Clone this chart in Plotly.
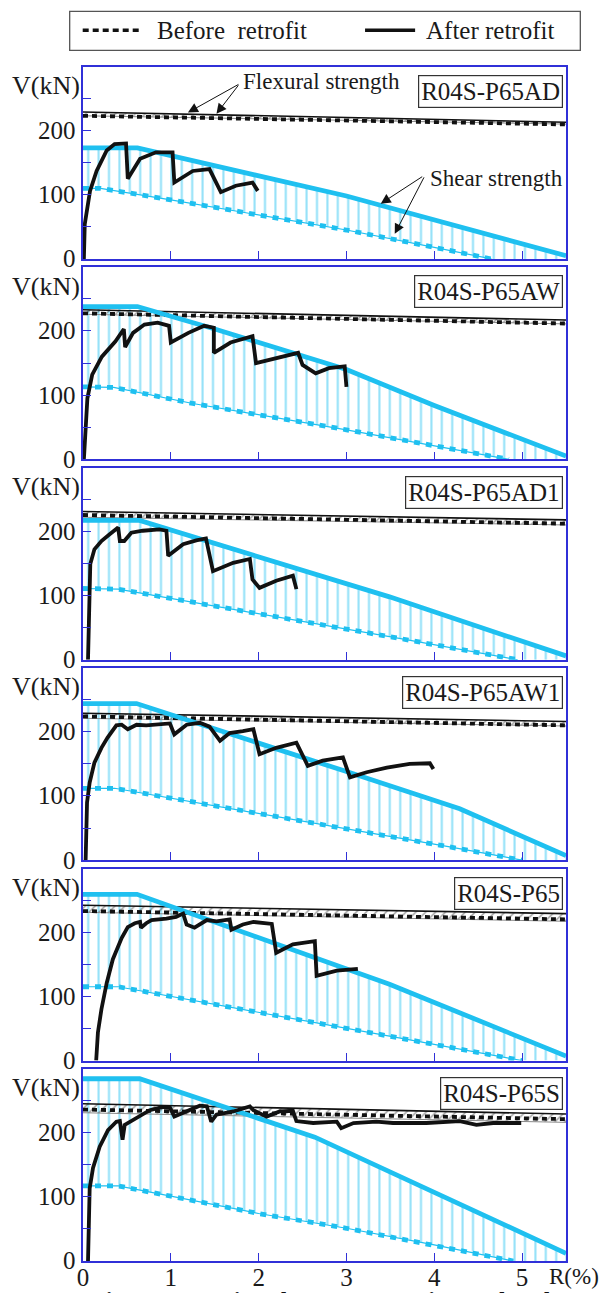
import plotly.graph_objects as go

# ---------------- data ----------------
SPECIMENS = ["R04S-P65AD", "R04S-P65AW", "R04S-P65AD1", "R04S-P65AW1", "R04S-P65", "R04S-P65S"]
X_TICKS = [0, 1, 2, 3, 4, 5]
Y_TICKS = [0, 50, 100, 150, 200, 250]
Y_LABELS = [0, 100, 200]

# experimental skeleton curves (after retrofit), R(%) / V(kN)
exp_R_AD = [0.01, 0.02, 0.08, 0.155, 0.27, 0.36, 0.49, 0.51, 0.65, 0.83, 1.02, 1.04, 1.25, 1.44, 1.57, 1.74, 1.93, 1.99]
exp_V_AD = [0, 54, 106, 137, 169, 179, 180, 125, 156, 166, 166, 119, 137, 140, 104, 114, 119, 106]
exp_R_AW = [0.01, 0.05, 0.105, 0.215, 0.37, 0.465, 0.48, 0.57, 0.70, 0.85, 0.98, 1.0, 1.2, 1.38, 1.49, 1.49, 1.68, 1.93, 1.97, 2.21, 2.45, 2.5, 2.65, 2.8, 2.98, 3.0]
exp_V_AW = [0, 95, 132, 160, 184, 203, 175, 197, 210, 213, 208, 182, 197, 208, 205, 166, 182, 192, 150, 158, 166, 147, 134, 142, 145, 113]
exp_R_AD1 = [0.057, 0.068, 0.083, 0.13, 0.21, 0.30, 0.40, 0.42, 0.47, 0.55, 0.68, 0.87, 0.95, 0.97, 1.14, 1.29, 1.40, 1.48, 1.71, 1.90, 1.93, 2.01, 2.20, 2.39, 2.43]
exp_V_AD1 = [0, 102, 149, 172, 185, 195, 206, 185, 185, 198, 201, 203, 201, 162, 180, 186, 189, 138, 151, 157, 125, 112, 123, 131, 110]
exp_R_AW1 = [0.03, 0.046, 0.076, 0.13, 0.21, 0.28, 0.38, 0.44, 0.51, 0.61, 0.72, 0.87, 0.99, 1.04, 1.18, 1.33, 1.44, 1.56, 1.67, 1.82, 1.94, 2.01, 2.20, 2.43, 2.56, 2.73, 2.96, 3.04, 3.23, 3.46, 3.72, 3.95, 3.99]
exp_V_AW1 = [0, 90, 121, 152, 175, 191, 210, 211, 204, 211, 210, 211, 213, 196, 211, 214, 208, 186, 198, 201, 204, 165, 175, 183, 147, 155, 160, 129, 137, 144, 150, 151, 142]
exp_R_P65 = [0.15, 0.17, 0.21, 0.27, 0.34, 0.44, 0.51, 0.59, 0.65, 0.66, 0.72, 0.78, 0.95, 1.06, 1.14, 1.18, 1.27, 1.41, 1.52, 1.67, 1.69, 1.82, 1.94, 2.15, 2.2, 2.39, 2.64, 2.66, 2.89, 3.13]
exp_V_P65 = [0, 44, 80, 121, 158, 191, 208, 214, 216, 207, 214, 219, 221, 224, 229, 212, 207, 219, 217, 220, 204, 212, 216, 213, 168, 181, 186, 132, 140, 143]
exp_R_P65S = [0.057, 0.065, 0.076, 0.114, 0.19, 0.285, 0.38, 0.42, 0.45, 0.475, 0.55, 0.645, 0.76, 0.91, 0.99, 1.04, 1.18, 1.33, 1.41, 1.46, 1.52, 1.71, 1.90, 1.94, 2.09, 2.24, 2.39, 2.43, 2.62, 2.89, 2.94, 3.08, 3.34, 3.53, 3.91, 4.29, 4.48, 4.67, 4.99]
exp_V_P65S = [0, 77, 113, 145, 178, 204, 217, 218, 189, 212, 218, 225, 235, 240, 239, 225, 233, 242, 241, 217, 228, 233, 241, 235, 225, 233, 234, 218, 215, 217, 207, 215, 217, 215, 215, 218, 212, 215, 215]

# shear strength after retrofit (solid cyan)
sa_R_AD, sa_V_AD = [0, 0.62, 3.0, 5.5], [173, 173, 98, 5]
sa_R_AW, sa_V_AW = [0, 0.62, 1.5, 3.0, 4.0, 5.5], [238, 238, 203, 140, 84, 5]
sa_R_AD1, sa_V_AD1 = [0, 0.645, 3.49, 5.5], [217, 217, 98, 6]
sa_R_AW1, sa_V_AW1 = [0, 0.61, 3.0, 4.29, 5.5], [244, 244, 138, 80, 7]
sa_R_P65, sa_V_P65 = [0, 0.615, 3.49, 5.5], [259, 259, 119, 7]
sa_R_P65S, sa_V_P65S = [0, 0.645, 2.64, 4.0, 5.5], [284, 284, 193, 106, 12]

# shear strength before retrofit (dashed cyan)
sb_R_AD, sb_V_AD = [0, 0.2, 1, 2, 3, 4, 4.65], [110, 110, 92, 69, 45, 18, 0]
sb_R_AW, sb_V_AW = [0, 0.35, 1.25, 3.0, 4.85], [113, 112, 87, 46, 0]
sb_R_AD1, sb_V_AD1 = [0, 0.4, 3.49, 4.95], [111, 110, 36, 0]
sb_R_AW1, sb_V_AW1 = [0, 0.36, 4.16, 5.0], [112, 112, 21, 0]
sb_R_P65, sb_V_P65 = [0, 0.4, 3.49, 5.0], [115, 115, 38, 0]
sb_R_P65S, sb_V_P65S = [0, 0.4, 1, 2, 3, 4, 4.9], [117, 117, 101, 74, 51, 25, 0]

# flexural strength at R=0 and R=5.5
flex_R = [0, 5.5]
flex_top = [[229, 213], [233, 217], [231, 218], [229, 216], [242, 229], [245, 229]]
flex_before = [[223, 209.5], [227.5, 211.5], [225.5, 212], [224, 210], [233, 220], [236, 221]]
flex_low = [[223, 210], [226, 211], [222, 210], [221, 209], [231, 217], [231, 216]]

EXP = [(exp_R_AD, exp_V_AD), (exp_R_AW, exp_V_AW), (exp_R_AD1, exp_V_AD1),
       (exp_R_AW1, exp_V_AW1), (exp_R_P65, exp_V_P65), (exp_R_P65S, exp_V_P65S)]
SA = [(sa_R_AD, sa_V_AD), (sa_R_AW, sa_V_AW), (sa_R_AD1, sa_V_AD1),
      (sa_R_AW1, sa_V_AW1), (sa_R_P65, sa_V_P65), (sa_R_P65S, sa_V_P65S)]
SB = [(sb_R_AD, sb_V_AD), (sb_R_AW, sb_V_AW), (sb_R_AD1, sb_V_AD1),
      (sb_R_AW1, sb_V_AW1), (sb_R_P65, sb_V_P65), (sb_R_P65S, sb_V_P65S)]

# ---------------- layout geometry ----------------
W, H = 602, 1293
ML, MR, MT, MB = 83.3, 36.3, 66.7, 31.7
PW, PH = W - ML - MR, H - MT - MB
PANEL_STEP, PANEL_H = 200.52, 192
XMAX, YMAX = 5.5, 299

FONT = "Liberation Serif, Times New Roman, serif"
BLUE = "#3030d8"
CYAN = "#1fc0f0"
HATCH = "#26c3f2"
INK = "#111111"
TXT = "#1a1a1a"


def yp(py):
    return 1 - (py - MT) / PH


def xp(px):
    return (px - ML) / PW


fig = go.Figure()
annotations = []
layout_axes = {}

for i in range(6):
    sfx = "" if i == 0 else str(i + 1)
    xa, ya = "x" + sfx, "y" + sfx
    top = MT + i * PANEL_STEP
    bot = top + PANEL_H

    layout_axes["xaxis" + sfx] = dict(
        domain=[0, 1], anchor=ya, range=[0, XMAX], tickvals=X_TICKS,
        ticks="inside", ticklen=8, tickwidth=1.3, tickcolor=BLUE,
        showline=True, linecolor=BLUE, linewidth=1.5, mirror=True,
        showgrid=False, zeroline=False, showticklabels=(i == 5),
        automargin=False, ticklabelstandoff=-7,
        tickfont=dict(family=FONT, size=25, color=TXT),
    )
    layout_axes["yaxis" + sfx] = dict(
        domain=[yp(bot), yp(top)], anchor=xa, range=[0, YMAX], tickvals=Y_TICKS,
        ticks="inside", ticklen=8, tickwidth=1.3, tickcolor=BLUE,
        showline=True, linecolor=BLUE, linewidth=1.5, mirror=True,
        showgrid=False, zeroline=False, automargin=False, showticklabels=False,
    )

    sbR, sbV = SB[i]
    saR, saV = SA[i]
    eR, eV = EXP[i]

    # shear hatch (vertical lines) between before and after shear strength
    fig.add_trace(go.Scatter(x=list(sbR) + [XMAX], y=list(sbV) + [0], mode="lines",
                             line=dict(width=0, color=HATCH), xaxis=xa, yaxis=ya,
                             showlegend=False, hoverinfo="skip"))
    fig.add_trace(go.Scatter(x=saR, y=saV, mode="lines", line=dict(width=0, color=HATCH),
                             fill="tonexty", fillcolor="rgba(0,0,0,0)",
                             fillpattern=dict(shape="|", fgcolor=HATCH, bgcolor="rgba(0,0,0,0)",
                                              size=10.4, solidity=0.2, fillmode="overlay"),
                             xaxis=xa, yaxis=ya, showlegend=False, hoverinfo="skip"))

    # flexural hatch band
    fig.add_trace(go.Scatter(x=flex_R, y=flex_low[i], mode="lines",
                             line=dict(width=1, color="#8a8a8a"), xaxis=xa, yaxis=ya,
                             showlegend=False, hoverinfo="skip"))
    fig.add_trace(go.Scatter(x=flex_R, y=flex_top[i], mode="lines",
                             line=dict(width=1.6, color=INK),
                             fill="tonexty", fillcolor="rgba(0,0,0,0)",
                             fillpattern=dict(shape="/", fgcolor="#333333", bgcolor="rgba(0,0,0,0)",
                                              size=7, solidity=0.2, fillmode="overlay"),
                             xaxis=xa, yaxis=ya, showlegend=False, hoverinfo="skip"))
    # flexural before retrofit (dashed)
    fig.add_trace(go.Scatter(x=flex_R, y=flex_before[i], mode="lines",
                             line=dict(width=3.8, color=INK, dash="5px,4px"),
                             xaxis=xa, yaxis=ya, showlegend=False, hoverinfo="skip"))

    # shear before retrofit: thin line + thick dashes
    fig.add_trace(go.Scatter(x=sbR, y=sbV, mode="lines", line=dict(width=1.2, color=CYAN),
                             xaxis=xa, yaxis=ya, showlegend=False, hoverinfo="skip"))
    fig.add_trace(go.Scatter(x=sbR, y=sbV, mode="lines",
                             line=dict(width=4.8, color=CYAN, dash="6px,6px"),
                             xaxis=xa, yaxis=ya, showlegend=False, hoverinfo="skip"))
    # shear after retrofit
    fig.add_trace(go.Scatter(x=saR, y=saV, mode="lines", line=dict(width=4.8, color=CYAN),
                             xaxis=xa, yaxis=ya, showlegend=False, hoverinfo="skip"))
    # experimental
    fig.add_trace(go.Scatter(x=eR, y=eV, mode="lines",
                             line=dict(width=3.8, color=INK, shape="linear"),
                             xaxis=xa, yaxis=ya, showlegend=False, hoverinfo="skip"))

    # y tick labels
    for v in Y_LABELS:
        annotations.append(dict(
            text=str(v), xref="paper", yref=ya, x=0, y=v, xanchor="right", yanchor="middle",
            xshift=-5, showarrow=False, font=dict(family=FONT, size=25, color=TXT)))

    # specimen label box
    annotations.append(dict(
        text=SPECIMENS[i], xref=xa + " domain", yref=ya + " domain", x=1, y=1,
        xanchor="right", yanchor="top", xshift=-3, yshift=-8, showarrow=False,
        font=dict(family=FONT, size=25, color=TXT),
        bordercolor="#333333", borderwidth=1.2, borderpad=2, bgcolor="white"))
    # V(kN)
    annotations.append(dict(
        text="V(kN)", xref="paper", yref=ya, x=0, y=270, xanchor="right", yanchor="middle",
        xshift=-1, showarrow=False, font=dict(family=FONT, size=26, color=TXT)))

# panel 1 pointer texts and arrows
annotations.append(dict(text="Flexural strength", xref="x", yref="y", x=1.80, y=277,
                        xanchor="left", yanchor="middle", showarrow=False,
                        font=dict(family=FONT, size=23, color=TXT)))
annotations.append(dict(text="Shear strength", xref="x", yref="y", x=3.93, y=126,
                        xanchor="left", yanchor="middle", showarrow=False,
                        font=dict(family=FONT, size=23, color=TXT)))
for (ax_, ay_, hx, hy) in [(52, -29, 1.195, 228), (23, -30, 1.52, 226),
                           (43, -28, 3.39, 86), (30, -58, 3.55, 39)]:
    annotations.append(dict(text="", xref="x", yref="y", x=hx, y=hy, ax=ax_, ay=ay_,
                            showarrow=True, arrowhead=2, arrowsize=2, arrowwidth=1,
                            arrowcolor="#111111", standoff=0))

# x-axis title and caption
annotations.append(dict(text="R(%)", xref="paper", yref="paper", x=xp(547), y=yp(1277),
                        xanchor="left", yanchor="middle", showarrow=False,
                        font=dict(family=FONT, size=23, color=TXT)))
annotations.append(dict(text="<b>Fig.7 Comparison between experimental and</b>", xref="paper",
                        yref="paper", x=xp(89), y=yp(1285), xanchor="left", yanchor="top",
                        showarrow=False, font=dict(family=FONT, size=24, color=INK)))

# legend (box, samples, texts)
shapes = [
    dict(type="rect", xref="paper", yref="paper", x0=xp(70), x1=xp(580), y0=yp(50), y1=yp(11),
         line=dict(color="#555555", width=1.3), fillcolor="white"),
    dict(type="line", xref="paper", yref="paper", x0=xp(83), x1=xp(141), y0=yp(30), y1=yp(30),
         line=dict(color=INK, width=3.5, dash="6px,4px")),
    dict(type="line", xref="paper", yref="paper", x0=xp(365), x1=xp(415), y0=yp(30), y1=yp(30),
         line=dict(color=INK, width=3.5)),
]
annotations.append(dict(text="Before\u00a0\u00a0retrofit", xref="paper", yref="paper", x=xp(155),
                        y=yp(30), xanchor="left", yanchor="middle", showarrow=False,
                        font=dict(family=FONT, size=25, color=TXT)))
annotations.append(dict(text="After retrofit", xref="paper", yref="paper", x=xp(424),
                        y=yp(30), xanchor="left", yanchor="middle", showarrow=False,
                        font=dict(family=FONT, size=25, color=TXT)))

fig.update_layout(
    width=W, height=H, autosize=False,
    margin=dict(l=ML, r=MR, t=MT, b=MB, pad=0, autoexpand=False),
    paper_bgcolor="white", plot_bgcolor="white",
    showlegend=False, annotations=annotations, shapes=shapes,
    **layout_axes,
)

fig.write_html("out.html", config={"displayModeBar": False},
               post_script="document.body.style.margin='0px';")
